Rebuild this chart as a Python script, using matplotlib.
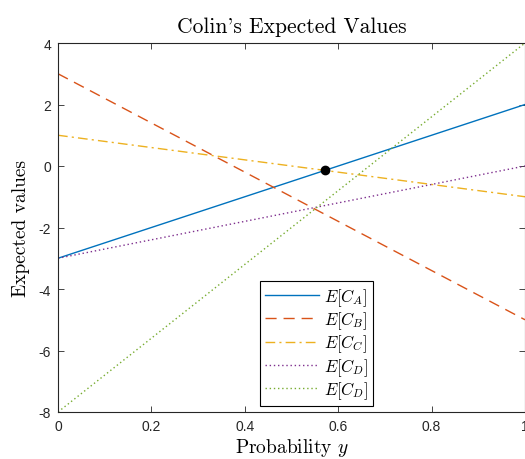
import numpy as np
import matplotlib
matplotlib.use("Agg")
import matplotlib.pyplot as plt

plt.rcParams["mathtext.fontset"] = "cm"

# end points of each line at y=0 and y=1
prob = [0, 1]
e_a = [-3, 2]
e_b = [3, -5]
e_c = [1, -1]
e_d = [-3, 0]
e_d2 = [-8, 4]
labels = [r"$E[C_A]$", r"$E[C_B]$", r"$E[C_C]$", r"$E[C_D]$", r"$E[C_D]$"]

eq_x = 4 / 7
eq_y = -1 / 7

xticks = [0, 0.2, 0.4, 0.6, 0.8, 1]
xticklabels = ["0", "0.2", "0.4", "0.6", "0.8", "1"]
yticks = [-8, -6, -4, -2, 0, 2, 4]
yticklabels = ["-8", "-6", "-4", "-2", "0", "2", "4"]

fig = plt.figure(figsize=(5.25, 4.6), dpi=100)
ax = fig.add_axes([58 / 525, 47 / 460, 467 / 525, 369 / 460])

ax.plot(prob, e_a, color="#0072BD", lw=1.0, ls="-", label=labels[0])
ax.plot(prob, e_b, color="#D95319", lw=1.0, ls=(0, (8, 5)), label=labels[1])
ax.plot(prob, e_c, color="#EDB120", lw=1.0, ls=(0, (7, 3, 1.5, 3)), label=labels[2])
ax.plot(prob, e_d, color="#7E2F8E", lw=1.0, ls=(0, (1, 2)), label=labels[3])
ax.plot(prob, e_d2, color="#77AC30", lw=1.0, ls=(0, (1, 2)), label=labels[4])
ax.plot(eq_x, eq_y, "o", color="black", markersize=6)

ax.set_xlim(0, 1)
ax.set_ylim(-8, 4)
ax.set_xticks(xticks)
ax.set_xticklabels(xticklabels, family="Liberation Sans", fontsize=10)
ax.set_yticks(yticks)
ax.set_yticklabels(yticklabels, family="Liberation Sans", fontsize=10)
ax.tick_params(direction="in", top=True, right=True, length=4, width=0.6,
               colors="#262626", pad=5)
for s in ax.spines.values():
    s.set_linewidth(0.8)
    s.set_color("#262626")

ax.set_title("Colin's Expected Values", family=["cmr10", "DejaVu Serif"],
             fontsize=15.5, pad=8)
ax.set_xlabel(r"Probability $y$", family="cmr10", fontsize=14, labelpad=2)
ax.set_ylabel("Expected values", family="cmr10", fontsize=14, labelpad=6)

leg = ax.legend(loc="lower left", bbox_to_anchor=(0.433, 0.016), fontsize=12,
                handlelength=3.2, handletextpad=0.3, borderpad=0.3,
                labelspacing=0.1, borderaxespad=0, fancybox=False,
                edgecolor="black", framealpha=1)
leg.get_frame().set_linewidth(0.8)

fig.savefig("out.png", dpi=100)
